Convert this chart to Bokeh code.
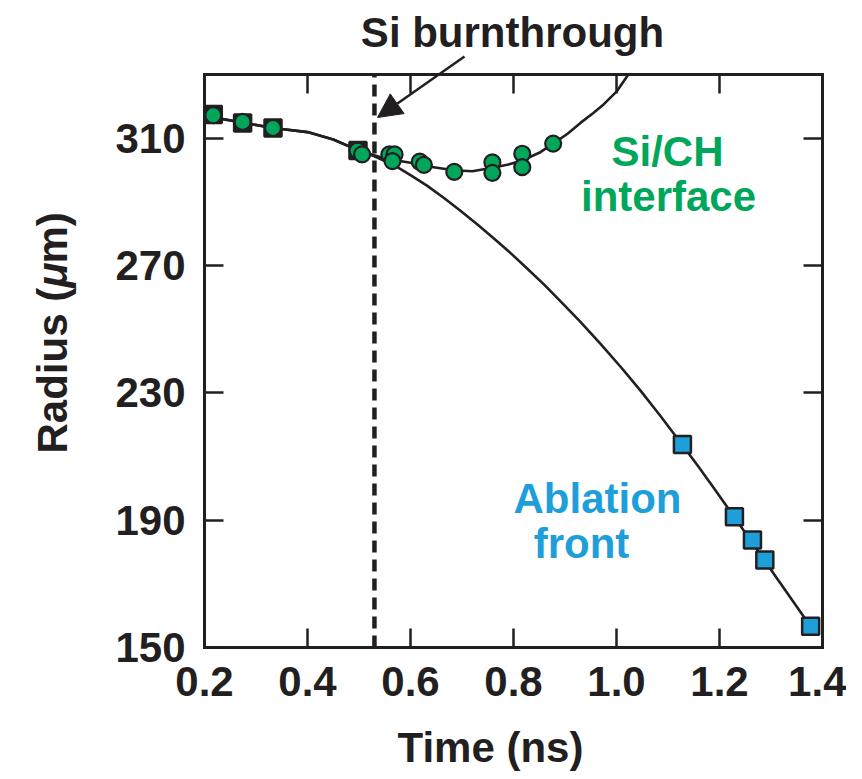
import math
from bokeh.plotting import figure
from bokeh.models import Label, Arrow, NormalHead, LinearAxis, FixedTicker
from bokeh.embed import file_html
from bokeh.resources import INLINE

# ---------------- data ----------------
ablation_time = [0.217, 0.274, 0.333, 0.498, 1.128, 1.229, 1.264, 1.288, 1.377]
ablation_radius = [317.4, 314.8, 313.2, 306.1, 213.8, 191.1, 183.8, 177.5, 156.7]

interface_time = [0.217, 0.274, 0.333, 0.497, 0.506, 0.559, 0.569, 0.565,
                  0.618, 0.626, 0.685, 0.759, 0.759, 0.817, 0.817, 0.877]
interface_radius = [317.2, 315.1, 313.2, 306.1, 304.9, 304.9, 304.9, 302.8,
                    302.6, 301.6, 299.4, 302.4, 299.1, 305.1, 300.9, 308.3]

# fitted curves
ablation_fit_time = [0.20, 0.27, 0.333, 0.40, 0.45, 0.50, 0.53, 0.568, 0.60, 0.632,
                     0.665, 0.697, 0.73, 0.762, 0.795, 0.827, 0.86, 0.891, 0.93,
                     0.969, 1.01, 1.047, 1.085, 1.128, 1.16, 1.19, 1.229, 1.264,
                     1.288, 1.377]
ablation_fit_radius = [317.0, 315.0, 313.2, 311.9, 309.6, 306.1, 304.3, 301.5, 298.4, 295.1,
                       291.2, 287.2, 282.9, 278.5, 273.8, 269.0, 263.9, 258.8, 252.3,
                       245.4, 237.8, 230.6, 222.8, 213.6, 206.6, 199.9, 190.9, 182.8,
                       177.2, 156.6]

interface_fit_time = [0.20, 0.27, 0.333, 0.40, 0.45, 0.50, 0.55, 0.60, 0.632, 0.684,
                      0.72, 0.762, 0.79, 0.817, 0.85, 0.877, 0.905, 0.93, 0.955,
                      0.975, 1.00, 1.023]
interface_fit_radius = [317.0, 315.0, 313.2, 311.9, 309.6, 306.1, 303.6, 302.3, 301.2, 299.9,
                        299.6, 300.8, 301.7, 303.0, 305.4, 308.3, 311.4, 314.8, 317.9,
                        320.6, 324.6, 330.0]

burnthrough_time = 0.53

x_ticks = [0.2, 0.4, 0.6, 0.8, 1.0, 1.2, 1.4]
x_tick_labels = ["0.2", "0.4", "0.6", "0.8", "1.0", "1.2", "1.4"]
y_ticks = [150, 190, 230, 270, 310]
y_tick_labels = ["150", "190", "230", "270", "310"]

# ---------------- style / layout ----------------
FONT = "Liberation Sans"
FS = "42px"
INK = "#231f20"
GREEN = "#00a65a"
BLUE = "#1e9fd9"
X0, X1 = 0.2, 1.4      # axis extents
Y0, Y1 = 150, 330
W, H = 846, 771        # canvas size
FL, FR, FT, FB = 204, 822, 74, 647   # plot box edges in canvas pixels
SHIFT = 15             # baseline correction for annotation text

KX = (X1 - X0) / (FR - FL)
KY = (Y1 - Y0) / (FB - FT)


def wx(px):
    return X0 + (px - FL) * KX


def wy(py):
    return Y1 - (py - FT) * KY


# the frame covers the whole canvas; the plot box is drawn by fixed-location axes
p = figure(width=W, height=H,
           x_range=(wx(0), wx(W)), y_range=(wy(H), wy(0)),
           output_backend="svg", toolbar_location=None,
           x_axis_location=None, y_axis_location=None, min_border=0)
p.title.visible = False
p.grid.visible = False
p.outline_line_color = None
p.background_fill_color = "white"
p.border_fill_color = "white"


def make_axis(ticks, labels, loc, bounds, show_labels, standoff=0):
    ax = LinearAxis(ticker=FixedTicker(ticks=ticks), fixed_location=loc, bounds=bounds)
    ax.axis_line_color = INK
    ax.axis_line_width = 3
    ax.axis_line_cap = "square"
    ax.major_tick_in = 19
    ax.major_tick_out = 0
    ax.major_tick_line_width = 2.5
    ax.major_tick_line_color = INK
    ax.minor_tick_line_color = None
    if show_labels:
        ax.major_label_overrides = dict(zip(ticks, labels))
        ax.major_label_text_font = FONT
        ax.major_label_text_font_style = "bold"
        ax.major_label_text_font_size = FS
        ax.major_label_text_color = INK
        ax.major_label_standoff = standoff
    else:
        ax.major_label_text_font_size = "0px"
        ax.major_label_text_color = None
        ax.major_label_standoff = 0
    return ax


p.add_layout(make_axis(x_ticks, x_tick_labels, Y0, (X0, X1), True, 19), "below")
p.add_layout(make_axis(y_ticks, y_tick_labels, X0, (Y0, Y1), True, 19), "left")
p.add_layout(make_axis(x_ticks, x_tick_labels, Y1, (X0, X1), False), "above")
p.add_layout(make_axis(y_ticks, y_tick_labels, X1, (Y0, Y1), False), "right")

# fitted curves
p.line(interface_fit_time, interface_fit_radius, line_color=INK, line_width=2.6, line_join="round")
p.line(ablation_fit_time, ablation_fit_radius, line_color=INK, line_width=2.6, line_join="round")

# Si burnthrough time (dashed vertical line across the plot box)
p.segment(x0=[burnthrough_time], y0=[Y0], x1=[burnthrough_time], y1=[Y1],
          line_color=INK, line_width=4.5, line_dash="12 7")

# data points
sq_fill = [INK if t < 1.0 else BLUE for t in ablation_time]
p.scatter(ablation_time, ablation_radius, marker="square", size=17,
          fill_color=sq_fill, line_color=INK, line_width=2.5)
p.scatter(interface_time, interface_radius, marker="circle", size=16,
          fill_color=GREEN, line_color=INK, line_width=2.2)


def add_text(text, px, py, color=INK, align="center", angle=0.0, style="bold"):
    if angle == 0.0:
        py = py - SHIFT
    else:
        px = px - SHIFT
    p.add_layout(Label(x=wx(px), y=wy(py), text=text, text_font=FONT,
                       text_font_size=FS, text_font_style=style, text_color=color,
                       text_align=align, text_baseline="alphabetic", angle=angle))


add_text("Si burnthrough", 512, 47)
add_text("Time (ns)", 490, 762)
add_text("Si/CH", 667, 166, GREEN)
add_text("interface", 668, 211, GREEN)
add_text("Ablation", 597, 513, BLUE)
add_text("front", 581, 558, BLUE)

# rotated y-axis title, with italic mu
add_text("Radius (", 67, 453, align="left", angle=math.pi / 2)
add_text("\u03bc", 67, 453 - 165.7, align="left", angle=math.pi / 2, style="bold italic")
add_text("m)", 67, 453 - 165.7 - 24.2, align="left", angle=math.pi / 2)

# arrow pointing at the burnthrough line
p.add_layout(Arrow(end=NormalHead(size=24, fill_color=INK, line_color=INK, line_width=1),
                   x_start=wx(464), y_start=wy(56), x_end=wx(377), y_end=wy(117),
                   line_color=INK, line_width=2.5))

open("out.html", "w").write(file_html(p, INLINE))
